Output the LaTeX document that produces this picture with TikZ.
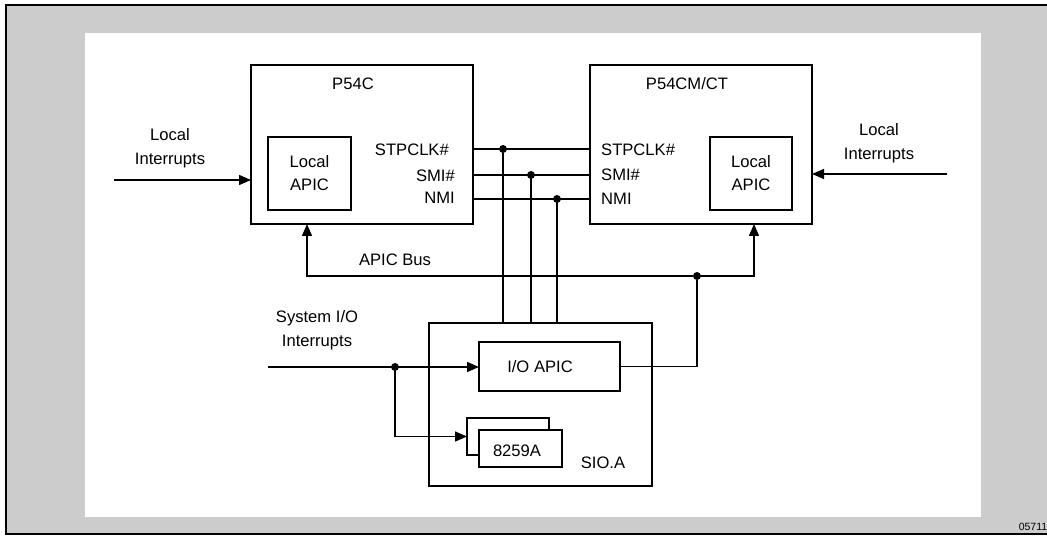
\documentclass[tikz,border=0pt]{standalone}
\usepackage{fontspec}
\setmainfont{Liberation Sans}
\usetikzlibrary{arrows.meta}
\definecolor{framegray}{RGB}{204,204,204}

\begin{document}
\begin{tikzpicture}[x=1pt,y=1pt,
    box/.style={draw,rectangle,line width=1.6pt,inner sep=0pt,outer sep=0pt},
    lbl/.style={inner sep=0pt,align=center,font=\fontsize{16.6}{23.5}\selectfont},
    sig/.style={line width=1.4pt},
    arr/.style={line width=1.4pt,-{Triangle[length=12pt,width=10pt]}},
    dot/.style={circle,fill=black,inner sep=0pt,minimum size=8pt}]
  \useasboundingbox (0,0) rectangle (1047,536);
  % frame
  \fill[framegray] (6,2) rectangle (1047,531);
  \draw[line width=2pt] (1047,531) -- (6,531) -- (6,2) -- (1047,2);
  \fill[white] (85,19) rectangle (981,503);

  \begin{scope}[every node/.style=box]
    \node[minimum width=222,minimum height=159] (P54C) at (362,391.5) {};
    \node[minimum width=222,minimum height=159] (P54CM) at (701,391.5) {};
    \node[minimum width=83,minimum height=73] (apicL) at (309.5,362.5) {};
    \node[minimum width=82,minimum height=73] (apicR) at (751,362.5) {};
    \node[minimum width=223,minimum height=163] (SIO) at (540.5,131.5) {};
    \node[minimum width=141,minimum height=49] (ioapic) at (549.5,169.5) {};
    \node[minimum width=82,minimum height=37] (picback) at (508,99.5) {};
    \node[minimum width=83,minimum height=37,fill=white] (pic) at (520.5,87.5) {};
  \end{scope}

  \begin{scope}[every node/.style=lbl]
    \node (tP54C) at (353,452) {P54C};
    \node (tP54CM) at (687,452) {P54CM/CT};
    \node (tapicL) at (309.5,363) {Local\\APIC};
    \node (tapicR) at (751,363) {Local\\APIC};
    \node[anchor=east] (stpL) at (449,386) {STPCLK\#};
    \node[anchor=east] (smiL) at (455,360) {SMI\#};
    \node[anchor=east] (nmiL) at (455,338) {NMI};
    \node[anchor=west] (stpR) at (601,386) {STPCLK\#};
    \node[anchor=west] (smiR) at (601,361) {SMI\#};
    \node[anchor=west] (nmiR) at (601,337) {NMI};
    \node (intL) at (170,388) {Local\\Interrupts};
    \node (intR) at (879,393) {Local\\Interrupts};
    \node (bus) at (395,276) {APIC Bus};
    \node (sysint) at (317,206) {System I/O\\Interrupts};
    \node (tioapic) at (540,169) {I/O APIC};
    \node (tpic) at (517,85) {8259A};
    \node (tsio) at (603,73) {SIO.A};
    \node[font=\fontsize{10.5}{12}\selectfont] (fig) at (1033,9) {05711};
  \end{scope}

  % control signals
  \node[dot] (d1) at (503,387) {};
  \node[dot] (d2) at (531,361) {};
  \node[dot] (d3) at (557,337) {};
  \draw[sig] (P54C.east |- d1) -- (P54CM.west |- d1);
  \draw[sig] (P54C.east |- d2) -- (P54CM.west |- d2);
  \draw[sig] (P54C.east |- d3) -- (P54CM.west |- d3);
  \draw[sig] (d1) -- (d1 |- SIO.north);
  \draw[sig] (d2) -- (d2 |- SIO.north);
  \draw[sig] (d3) -- (d3 |- SIO.north);

  % local interrupts
  \coordinate (inL) at (114,356);
  \coordinate (inR) at (947,362);
  \draw[arr] (inL) -- (inL -| P54C.west);
  \draw[arr] (inR) -- (inR -| P54CM.east);

  % system interrupts
  \coordinate (sysin) at (268,169);
  \node[dot] (d4) at (395,169) {};
  \draw[arr] (sysin) -- (sysin -| ioapic.west);
  \draw[arr] (d4) |- (picback.west);

  % APIC bus
  \node[dot] (d5) at (697,260) {};
  \coordinate (busL) at (307,260);
  \coordinate (busR) at (754,260);
  \draw[sig] (ioapic.east) -| (d5);
  \draw[arr] (d5) -- (busL) -- (busL |- P54C.south);
  \draw[arr] (d5) -- (busR) -- (busR |- P54CM.south);
\end{tikzpicture}
\end{document}
